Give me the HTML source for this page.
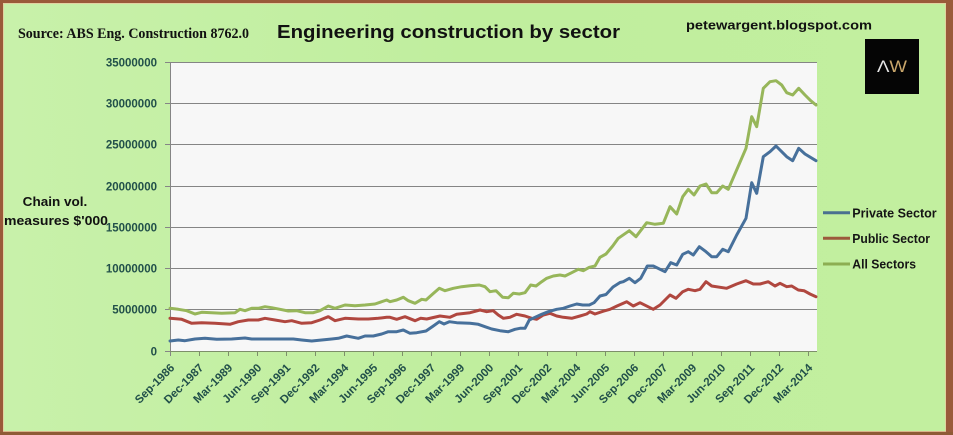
<!DOCTYPE html>
<html><head><meta charset="utf-8"><style>
html,body{margin:0;padding:0;background:#c1ee9f;}
body{width:953px;height:435px;overflow:hidden;}
svg{display:block;}
.ax{font-family:"Liberation Sans",sans-serif;font-weight:bold;font-size:11.5px;fill:#22504a;}
</style></head><body>
<svg width="953" height="435" viewBox="0 0 953 435" xmlns="http://www.w3.org/2000/svg">
<defs>
<linearGradient id="bg" x1="0" y1="0" x2="1" y2="0">
<stop offset="0" stop-color="#c8f1aa"/><stop offset="0.5" stop-color="#c0ee9e"/><stop offset="1" stop-color="#c2ef9f"/>
</linearGradient>
</defs>
<rect x="0" y="0" width="953" height="435" fill="url(#bg)"/>
<!-- frame -->
<rect x="1.5" y="1.5" width="946" height="431" fill="none" stroke="#9a5a3a" stroke-width="3"/>
<rect x="947" y="0" width="6" height="435" fill="#9a5a3a"/>
<rect x="0" y="432" width="953" height="3" fill="#8f5a36"/>
<rect x="3.5" y="3.5" width="942" height="428" fill="none" stroke="#e8caa0" stroke-width="1" opacity="0.8"/>

<!-- titles -->
<text x="18" y="38" font-family="'Liberation Serif',serif" font-weight="bold" font-size="14.5" fill="#111" textLength="231" lengthAdjust="spacingAndGlyphs">Source: ABS Eng. Construction 8762.0</text>
<text x="277" y="38" font-family="'Liberation Sans',sans-serif" font-weight="bold" font-size="18.5" fill="#111" textLength="343" lengthAdjust="spacingAndGlyphs">Engineering construction by sector</text>
<text x="686" y="29.5" font-family="'Liberation Sans',sans-serif" font-weight="bold" font-size="13" fill="#111" textLength="186" lengthAdjust="spacingAndGlyphs">petewargent.blogspot.com</text>

<!-- logo -->
<rect x="865" y="39" width="54" height="55" fill="#050505"/>
<text x="892" y="72" text-anchor="middle" font-family="'Liberation Sans',sans-serif" font-size="17" textLength="30" lengthAdjust="spacingAndGlyphs"><tspan fill="#e6e6e6">Λ</tspan><tspan fill="#c9a66b">W</tspan></text>

<!-- y axis title -->
<text x="22.7" y="206" font-family="'Liberation Sans',sans-serif" font-weight="bold" font-size="13" fill="#111" textLength="64.6" lengthAdjust="spacingAndGlyphs">Chain vol.</text>
<text x="4" y="225" font-family="'Liberation Sans',sans-serif" font-weight="bold" font-size="13" fill="#111" textLength="104" lengthAdjust="spacingAndGlyphs">measures $'000</text>

<!-- plot area -->
<rect x="170" y="62" width="647" height="289" fill="#f7f7f7"/>
<g stroke="#858585" stroke-width="1">
<line x1="170" y1="62.5" x2="817" y2="62.5"/>
<line x1="170" y1="103.5" x2="817" y2="103.5"/>
<line x1="170" y1="144.5" x2="817" y2="144.5"/>
<line x1="170" y1="186.5" x2="817" y2="186.5"/>
<line x1="170" y1="227.5" x2="817" y2="227.5"/>
<line x1="170" y1="268.5" x2="817" y2="268.5"/>
<line x1="170" y1="309.5" x2="817" y2="309.5"/>
<line x1="170.5" y1="62" x2="170.5" y2="356"/>
<line x1="165" y1="62.5" x2="170" y2="62.5"/>
<line x1="165" y1="103.5" x2="170" y2="103.5"/>
<line x1="165" y1="144.5" x2="170" y2="144.5"/>
<line x1="165" y1="186.5" x2="170" y2="186.5"/>
<line x1="165" y1="227.5" x2="170" y2="227.5"/>
<line x1="165" y1="268.5" x2="170" y2="268.5"/>
<line x1="165" y1="309.5" x2="170" y2="309.5"/>
<line x1="165" y1="351.5" x2="170" y2="351.5"/>
</g>
<line x1="170" y1="351.5" x2="817" y2="351.5" stroke="#7d8f6a" stroke-width="1"/>
<g stroke="#7d8f6a" stroke-width="1" id="xt">
<line x1="199.5" y1="351" x2="199.5" y2="356"/><line x1="228.5" y1="351" x2="228.5" y2="356"/>
<line x1="257.5" y1="351" x2="257.5" y2="356"/><line x1="286.5" y1="351" x2="286.5" y2="356"/>
<line x1="315.5" y1="351" x2="315.5" y2="356"/><line x1="344.5" y1="351" x2="344.5" y2="356"/>
<line x1="373.5" y1="351" x2="373.5" y2="356"/><line x1="402.5" y1="351" x2="402.5" y2="356"/>
<line x1="431.5" y1="351" x2="431.5" y2="356"/><line x1="460.5" y1="351" x2="460.5" y2="356"/>
<line x1="489.5" y1="351" x2="489.5" y2="356"/><line x1="518.5" y1="351" x2="518.5" y2="356"/>
<line x1="547.5" y1="351" x2="547.5" y2="356"/><line x1="576.5" y1="351" x2="576.5" y2="356"/>
<line x1="605.5" y1="351" x2="605.5" y2="356"/><line x1="634.5" y1="351" x2="634.5" y2="356"/>
<line x1="663.5" y1="351" x2="663.5" y2="356"/><line x1="692.5" y1="351" x2="692.5" y2="356"/>
<line x1="721.5" y1="351" x2="721.5" y2="356"/><line x1="750.5" y1="351" x2="750.5" y2="356"/>
<line x1="779.5" y1="351" x2="779.5" y2="356"/><line x1="808.5" y1="351" x2="808.5" y2="356"/>
</g>

<!-- y labels -->
<g class="ax" text-anchor="end">
<text x="157" y="66.5">35000000</text>
<text x="157" y="107.5">30000000</text>
<text x="157" y="148.5">25000000</text>
<text x="157" y="190.5">20000000</text>
<text x="157" y="231.5">15000000</text>
<text x="157" y="272.5">10000000</text>
<text x="157" y="313.5">5000000</text>
<text x="157" y="355.5">0</text>
</g>

<!-- x labels -->
<g class="ax" text-anchor="end">
<text transform="translate(175.2,368.5) rotate(-45)">Sep-1986</text>
<text transform="translate(204.2,368.5) rotate(-45)">Dec-1987</text>
<text transform="translate(233.2,368.5) rotate(-45)">Mar-1989</text>
<text transform="translate(262.2,368.5) rotate(-45)">Jun-1990</text>
<text transform="translate(291.2,368.5) rotate(-45)">Sep-1991</text>
<text transform="translate(320.2,368.5) rotate(-45)">Dec-1992</text>
<text transform="translate(349.2,368.5) rotate(-45)">Mar-1994</text>
<text transform="translate(378.2,368.5) rotate(-45)">Jun-1995</text>
<text transform="translate(407.2,368.5) rotate(-45)">Sep-1996</text>
<text transform="translate(436.2,368.5) rotate(-45)">Dec-1997</text>
<text transform="translate(465.2,368.5) rotate(-45)">Mar-1999</text>
<text transform="translate(494.2,368.5) rotate(-45)">Jun-2000</text>
<text transform="translate(523.2,368.5) rotate(-45)">Sep-2001</text>
<text transform="translate(552.2,368.5) rotate(-45)">Dec-2002</text>
<text transform="translate(581.2,368.5) rotate(-45)">Mar-2004</text>
<text transform="translate(610.2,368.5) rotate(-45)">Jun-2005</text>
<text transform="translate(639.2,368.5) rotate(-45)">Sep-2006</text>
<text transform="translate(668.2,368.5) rotate(-45)">Dec-2007</text>
<text transform="translate(697.2,368.5) rotate(-45)">Mar-2009</text>
<text transform="translate(726.2,368.5) rotate(-45)">Jun-2010</text>
<text transform="translate(755.2,368.5) rotate(-45)">Sep-2011</text>
<text transform="translate(784.2,368.5) rotate(-45)">Dec-2012</text>
<text transform="translate(813.2,368.5) rotate(-45)">Mar-2014</text>
</g>

<!-- series -->
<g fill="none" stroke-width="3" stroke-linejoin="round" stroke-linecap="round">
<polyline stroke="#97b65a" points="170,308.3 178.3,309.3 186.7,310.7 195,314 201.7,312.3 211.7,312.7 221.7,313.3 235,312.7 240,309.3 245,310.7 251.7,308.3 258.3,308.3 265,306.7 271.7,307.7 280,309.3 288.3,311 296.7,310.7 305,312.7 313.3,312.7 320,310.7 328.3,306 335,308.3 345,305 355,305.7 365,305 375,304 386.7,300 390,301.7 396.7,300 403.3,297.3 408.3,300.7 415,303.3 421.7,299.3 426,300 432.7,294 439.3,288.3 445,290.7 453.3,288.3 461.7,286.7 470,285.7 479.3,285 485,286.7 490,291.7 496,290.7 502.7,297.3 508.3,297.7 513.3,293.3 519.3,294 525,292.7 530.7,285 536,286 541.7,281.7 546.7,278.3 553.3,276 560,275 565,276 571.7,272.7 578.3,269.3 583.3,270.7 589.3,267.3 595,266 600,257.3 606,254 612.7,246 618.3,238.3 629.3,230.7 636,236.7 646.7,222.7 655,224.3 663.3,223.3 670,206.7 676.7,214 682.7,196.7 688.3,189.3 694,195 700,186 706,184 711.7,192.7 716.7,192.7 722.7,186 728.3,189.3 746,148.3 751.7,116.7 756.7,126.7 763.3,88.3 770,81.7 776,80.7 781.7,85 786.7,92.7 792.7,95 798.7,88.3 805,95 810.7,100.7 816,105"/>
<polyline stroke="#b0473f" points="170,318.3 181.7,319.3 191.7,323.3 201.7,322.7 215,323.3 230,324.3 238.3,321.7 248.3,320 258.3,320 265,318.3 275,320 285,321.7 291.7,320.7 301.7,323.3 311.7,322.7 320,320 328.3,316.7 335,320.7 345,318.3 358.3,319 368.3,319 378.3,318.3 386.7,317.3 390,317.3 396.7,319.3 405,316.7 415,320.7 420.7,318.3 426.7,319 440,316 450,317.3 456.7,314.3 470,312.7 480,310 486.7,311.7 493.3,310.7 498.3,315 503.3,318.3 510,317.3 516.7,314.3 525,316 531.7,318.3 536.7,319.3 543.3,315 550,313.3 556.7,316 563.3,317.3 571.7,318.3 580,316 586.7,314 590,311.7 595,314 603.3,311.2 610,309.3 617,306 626.7,301.7 633.3,306 640,302.7 653.3,309.3 660,305 670,295 676,298.3 682.7,291.7 688.3,289.3 695,290.7 700,289.3 706,281.7 711.7,286 726.7,288.3 736.7,284 746,280.7 753.3,284 760,284 768.3,281.7 775,286 780,283.3 786.7,286.7 791.7,286 798.3,290 804,290.7 810,294 816,296.7"/>
<polyline stroke="#47709b" points="170,341 178.3,340 185,340.7 195,339 205,338.3 216.7,339.3 231.7,339 245,338 251.7,339 265,339 281.7,339 293.3,339 301.7,340 311.7,341 321.7,340 331.7,339 338.3,338.3 346.7,336 358.3,338.3 365,336 373.3,336 381.7,334 388.3,331.7 396.7,331.7 403.3,330 410,333.3 416.7,332.7 426,331 433.3,326 439.3,321.7 444,324 449.3,321.7 456.7,322.7 470,323.3 478.3,324.3 485,326.7 491.7,329 500,330.7 508.3,331.7 515,329.3 520,328.3 525,328.3 529.3,320 535,317.3 541.7,314.3 548.3,311.7 556.7,309.3 563.3,308.3 570,306 576.7,304 582.7,305 589.3,305 594,302.7 600,296 606,294.5 613,287 620,282.5 623.3,281.7 629.3,278.3 635,282.7 640.7,278.3 647.3,266 653.3,266 665,271.7 670.7,262.7 676.7,265 682.7,254.3 688.3,251.7 693.3,255 699.3,246.7 706,251.7 711.7,256.7 716.7,256.7 722.7,249.3 728.3,251.7 736.7,235 746,218.3 751.7,182.7 756.7,193.3 763.3,156.7 770,151.7 776,146 781.7,151.7 786.7,156.7 792.7,160.7 798.7,148.3 805,154 816,160.7"/>
</g>

<!-- legend -->
<g stroke-width="3">
<line x1="823" y1="212.7" x2="850" y2="212.7" stroke="#4a7090"/>
<line x1="823" y1="238.3" x2="850" y2="238.3" stroke="#9c5a3c"/>
<line x1="823" y1="264" x2="850" y2="264" stroke="#8cae52"/>
</g>
<g font-family="'Liberation Sans',sans-serif" font-weight="bold" font-size="12.5" fill="#151515">
<text x="852.3" y="217.3" textLength="84.4" lengthAdjust="spacingAndGlyphs">Private Sector</text>
<text x="852.3" y="242.8" textLength="77.7" lengthAdjust="spacingAndGlyphs">Public Sector</text>
<text x="852.3" y="268.3" textLength="63.7" lengthAdjust="spacingAndGlyphs">All Sectors</text>
</g>
</svg>
</body></html>
